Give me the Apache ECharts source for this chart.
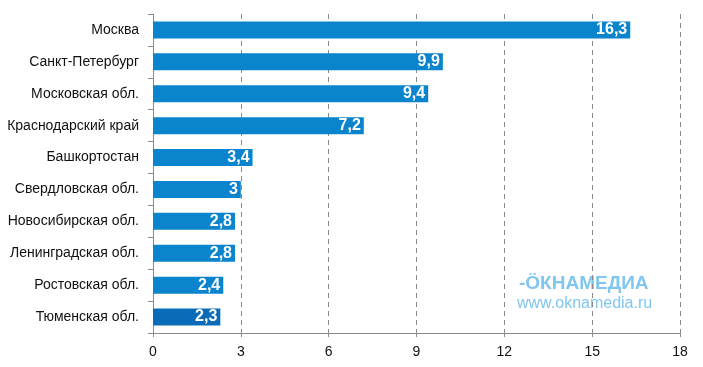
<!DOCTYPE html>
<html><head><meta charset="utf-8">
<script src="https://cdn.jsdelivr.net/npm/echarts@6/dist/echarts.min.js"></script>
<style>html,body{margin:0;padding:0;background:#fff}#c{width:703px;height:367px}</style>
</head><body><div id="c"></div>
<script>
const categories = ["Москва","Санкт-Петербург","Московская обл.","Краснодарский край","Башкортостан","Свердловская обл.","Новосибирская обл.","Ленинградская обл.","Ростовская обл.","Тюменская обл."];
const values = [16.3, 9.9, 9.4, 7.2, 3.4, 3, 2.8, 2.8, 2.4, 2.3];
const xTicks = [0, 3, 6, 9, 12, 15, 18];

const chart = echarts.init(document.getElementById('c'));
const data = values.map((v, i) => ({
  value: v,
  itemStyle: { color: i === values.length - 1 ? '#0a6cb8' : '#0a84cc' }
}));
chart.setOption({
  animation: false,
  grid: { left: 153, right: 23, top: 14, bottom: 34, containLabel: false },
  xAxis: {
    type: 'value', min: xTicks[0], max: xTicks[xTicks.length - 1], interval: 3,
    axisLine: { show: true, lineStyle: { color: '#8c8c8c', width: 1 } },
    axisTick: { show: true, length: 4, lineStyle: { color: '#8c8c8c' } },
    splitLine: { show: true, lineStyle: { color: '#8a8a8a', type: [5, 4], width: 1 } },
    axisLabel: { color: '#111', fontFamily: 'Arial, Liberation Sans', fontSize: 14, margin: 12,
      formatter: v => String(v) }
  },
  yAxis: {
    type: 'category', data: categories, inverse: true,
    axisLine: { show: true, lineStyle: { color: '#8c8c8c', width: 1 } },
    axisTick: { show: true, length: 5, lineStyle: { color: '#8c8c8c' } },
    axisLabel: { color: '#111', fontFamily: 'Arial, Liberation Sans', fontSize: 14, margin: 14 }
  },
  series: [{
    type: 'bar', data: data, barWidth: 17,
    label: {
      show: true, position: 'insideRight', distance: 3,
      color: '#fff', fontWeight: 'bold', fontSize: 16, fontFamily: 'Arial, Liberation Sans',
      formatter: p => String(p.value).replace('.', ',')
    }
  }],
  graphic: [
    { type: 'text', left: 519, top: 274, style: { text: '-ÖКНАМЕДИА', fill: '#80c6ef', font: 'bold 19px Arial, Liberation Sans' } },
    { type: 'text', left: 517, top: 296, style: { text: 'www.oknamedia.ru', fill: '#80c6ef', font: '16px Arial, Liberation Sans' } }
  ]
});
</script></body></html>
